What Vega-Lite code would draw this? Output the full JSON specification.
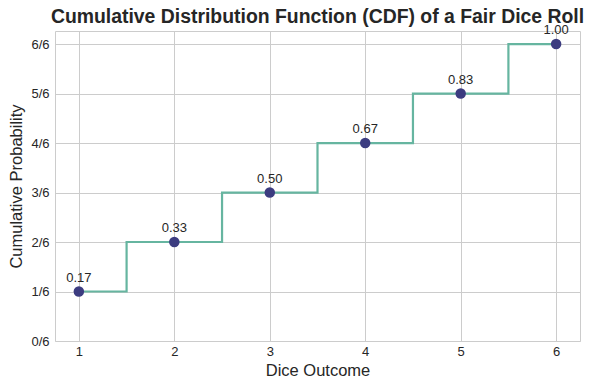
{
  "$schema": "https://vega.github.io/schema/vega-lite/v6.json",
  "autosize": "none",
  "width": 525,
  "height": 310,
  "padding": {"left": 55, "top": 31, "right": 15, "bottom": 49},
  "background": "white",
  "title": {
    "text": "Cumulative Distribution Function (CDF) of a Fair Dice Roll",
    "font": "Liberation Sans",
    "fontSize": 19.4,
    "fontWeight": "bold",
    "color": "#262626",
    "anchor": "middle",
    "frame": "group",
    "baseline": "alphabetic",
    "offset": 0,
    "dy": 18
  },
  "config": {
    "view": {"stroke": "#cccccc", "strokeWidth": 1},
    "axis": {
      "labelFont": "Liberation Sans",
      "titleFont": "Liberation Sans",
      "labelFontSize": 13,
      "titleFontSize": 16.5,
      "titleFontWeight": "normal",
      "labelColor": "#262626",
      "titleColor": "#262626",
      "gridColor": "#cccccc",
      "gridWidth": 1,
      "domain": false,
      "ticks": false
    }
  },
  "data": {
    "values": [
      {"outcome": 1, "p": 0.166667, "label": "0.17"},
      {"outcome": 2, "p": 0.333333, "label": "0.33"},
      {"outcome": 3, "p": 0.5, "label": "0.50"},
      {"outcome": 4, "p": 0.666667, "label": "0.67"},
      {"outcome": 5, "p": 0.833333, "label": "0.83"},
      {"outcome": 6, "p": 1.0, "label": "1.00"}
    ]
  },
  "encoding": {
    "x": {
      "field": "outcome",
      "type": "quantitative",
      "scale": {"domain": [0.75, 6.25], "nice": false, "zero": false},
      "axis": {"values": [1, 2, 3, 4, 5, 6], "format": "d", "title": "Dice Outcome", "labelPadding": 4, "titlePadding": 4}
    },
    "y": {
      "field": "p",
      "type": "quantitative",
      "scale": {"domain": [0, 1.044], "nice": false, "zero": true},
      "axis": {
        "values": [0, 0.166667, 0.333333, 0.5, 0.666667, 0.833333, 1],
        "labelExpr": "round(datum.value*6) + '/6'",
        "title": "Cumulative Probability",
        "labelPadding": 6,
        "titlePadding": 6
      }
    }
  },
  "layer": [
    {
      "mark": {"type": "line", "interpolate": "step", "color": "#66b5a0", "strokeWidth": 2.2},
      "encoding": {}
    },
    {
      "mark": {"type": "circle", "color": "#3c3c80", "size": 110, "opacity": 1},
      "encoding": {}
    },
    {
      "mark": {"type": "text", "font": "Liberation Sans", "fontSize": 13, "color": "#262626", "dy": -14, "baseline": "middle"},
      "encoding": {"text": {"field": "label"}}
    }
  ]
}
